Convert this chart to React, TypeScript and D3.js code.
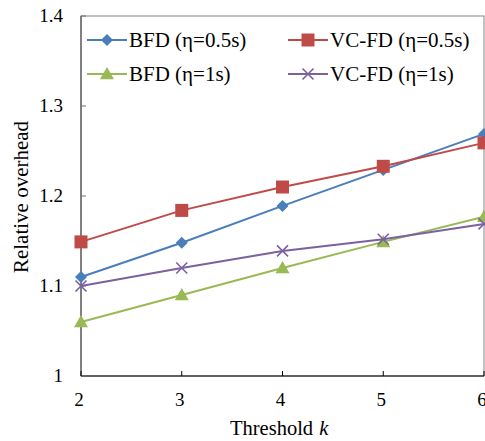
import React from "react";
import * as d3 from "d3";

const kValues = [2, 3, 4, 5, 6];
const bfd05 = [1.11, 1.148, 1.189, 1.229, 1.269];
const vcfd05 = [1.149, 1.184, 1.21, 1.233, 1.259];
const bfd1 = [1.06, 1.09, 1.12, 1.149, 1.177];
const vcfd1 = [1.1, 1.12, 1.139, 1.152, 1.169];
const yTicks = [1, 1.1, 1.2, 1.3, 1.4];
const seriesNames = ["BFD (η=0.5s)", "VC-FD (η=0.5s)", "BFD (η=1s)", "VC-FD (η=1s)"];

const W = 485, H = 441;
const L = 81, R = 484, T = 16, B = 376;
const FONT = "Liberation Serif";

type Marker = "diamond" | "square" | "triangle" | "x";
const series: { name: string; values: number[]; color: string; marker: Marker }[] = [
  { name: seriesNames[0], values: bfd05, color: "#4A7EBB", marker: "diamond" },
  { name: seriesNames[1], values: vcfd05, color: "#BE4B48", marker: "square" },
  { name: seriesNames[2], values: bfd1, color: "#98B954", marker: "triangle" },
  { name: seriesNames[3], values: vcfd1, color: "#7D60A0", marker: "x" },
];

function MarkerShape({ type, x, y, color }: { type: Marker; x: number; y: number; color: string }) {
  if (type === "diamond") {
    const s = 6;
    return <path d={`M${x},${y - s}L${x + s},${y}L${x},${y + s}L${x - s},${y}Z`} fill={color} />;
  }
  if (type === "square") {
    const s = 6.5;
    return <rect x={x - s} y={y - s} width={2 * s} height={2 * s} fill={color} />;
  }
  if (type === "triangle") {
    const s = 7;
    return <path d={`M${x},${y - s}L${x + s},${y + s * 0.75}L${x - s},${y + s * 0.75}Z`} fill={color} />;
  }
  const s = 5.5;
  return (
    <path d={`M${x - s},${y - s}L${x + s},${y + s}M${x - s},${y + s}L${x + s},${y - s}`} stroke={color} strokeWidth={1.6} fill="none" />
  );
}

const txt = (size: number, extra: React.CSSProperties = {}): React.CSSProperties => ({
  fontFamily: FONT,
  fontSize: size,
  ...extra,
});

export default function App() {
  const x = d3.scaleLinear().domain([2, 6]).range([L, R]);
  const y = d3.scaleLinear().domain([1, 1.4]).range([B, T]);
  const line = d3
    .line<number>()
    .x((_, i) => x(kValues[i]))
    .y((d) => y(d));

  const legendPos = [
    { lx: 87, ly: 40 },
    { lx: 288, ly: 40 },
    { lx: 87, ly: 74 },
    { lx: 288, ly: 74 },
  ];

  return (
    <svg width={W} height={H} style={{ position: "absolute", left: 0, top: 0, fontFamily: FONT }}>
      <rect x={0} y={0} width={W} height={H} fill="#fff" />
      {/* frame */}
      <rect x={L} y={T} width={R - L} height={B - T} fill="none" stroke="#868686" strokeWidth={1} />
      <line x1={L} x2={L} y1={T} y2={B} stroke="#6a6a6a" strokeWidth={1.5} />
      <line x1={L} x2={R} y1={B} y2={B} stroke="#000" strokeWidth={1.2} />
      {/* y ticks */}
      {yTicks.map((t) => (
        <g key={t}>
          <line x1={L} x2={L + 5} y1={y(t)} y2={y(t)} stroke="#6a6a6a" />
          <text x={63} y={y(t)} dy="0.33em" textAnchor="end" style={txt(19)} fill="#000">
            {d3.format("")(t)}
          </text>
        </g>
      ))}
      {/* x ticks */}
      {kValues.map((k) => (
        <g key={k}>
          <line x1={x(k)} x2={x(k)} y1={B} y2={B - 5} stroke="#000" />
          <text x={x(k) - 2} y={406} textAnchor="middle" style={txt(19)} fill="#000">
            {k}
          </text>
        </g>
      ))}
      {/* axis titles */}
      <text x={230} y={435} style={txt(20.5)} fill="#000">
        Threshold<tspan style={{ fontStyle: "italic" }} dx={6}>{"k"}</tspan>
      </text>
      <text transform={`translate(28,197) rotate(-90)`} textAnchor="middle" style={txt(21)} fill="#000">
        Relative overhead
      </text>
      {/* series */}
      {series.map((s) => (
        <g key={s.name}>
          <path d={line(s.values) || ""} fill="none" stroke={s.color} strokeWidth={2} />
          {s.values.map((v, i) => (
            <MarkerShape key={i} type={s.marker} x={x(kValues[i])} y={y(v)} color={s.color} />
          ))}
        </g>
      ))}
      {/* legend */}
      {series.map((s, i) => {
        const p = legendPos[i];
        return (
          <g key={s.name}>
            <line x1={p.lx} x2={p.lx + 40} y1={p.ly} y2={p.ly} stroke={s.color} strokeWidth={2} />
            <MarkerShape type={s.marker} x={p.lx + 20} y={p.ly} color={s.color} />
            <text x={p.lx + 42} y={p.ly + 7} style={txt(21)} fill="#000">
              {s.name}
            </text>
          </g>
        );
      })}
    </svg>
  );
}
